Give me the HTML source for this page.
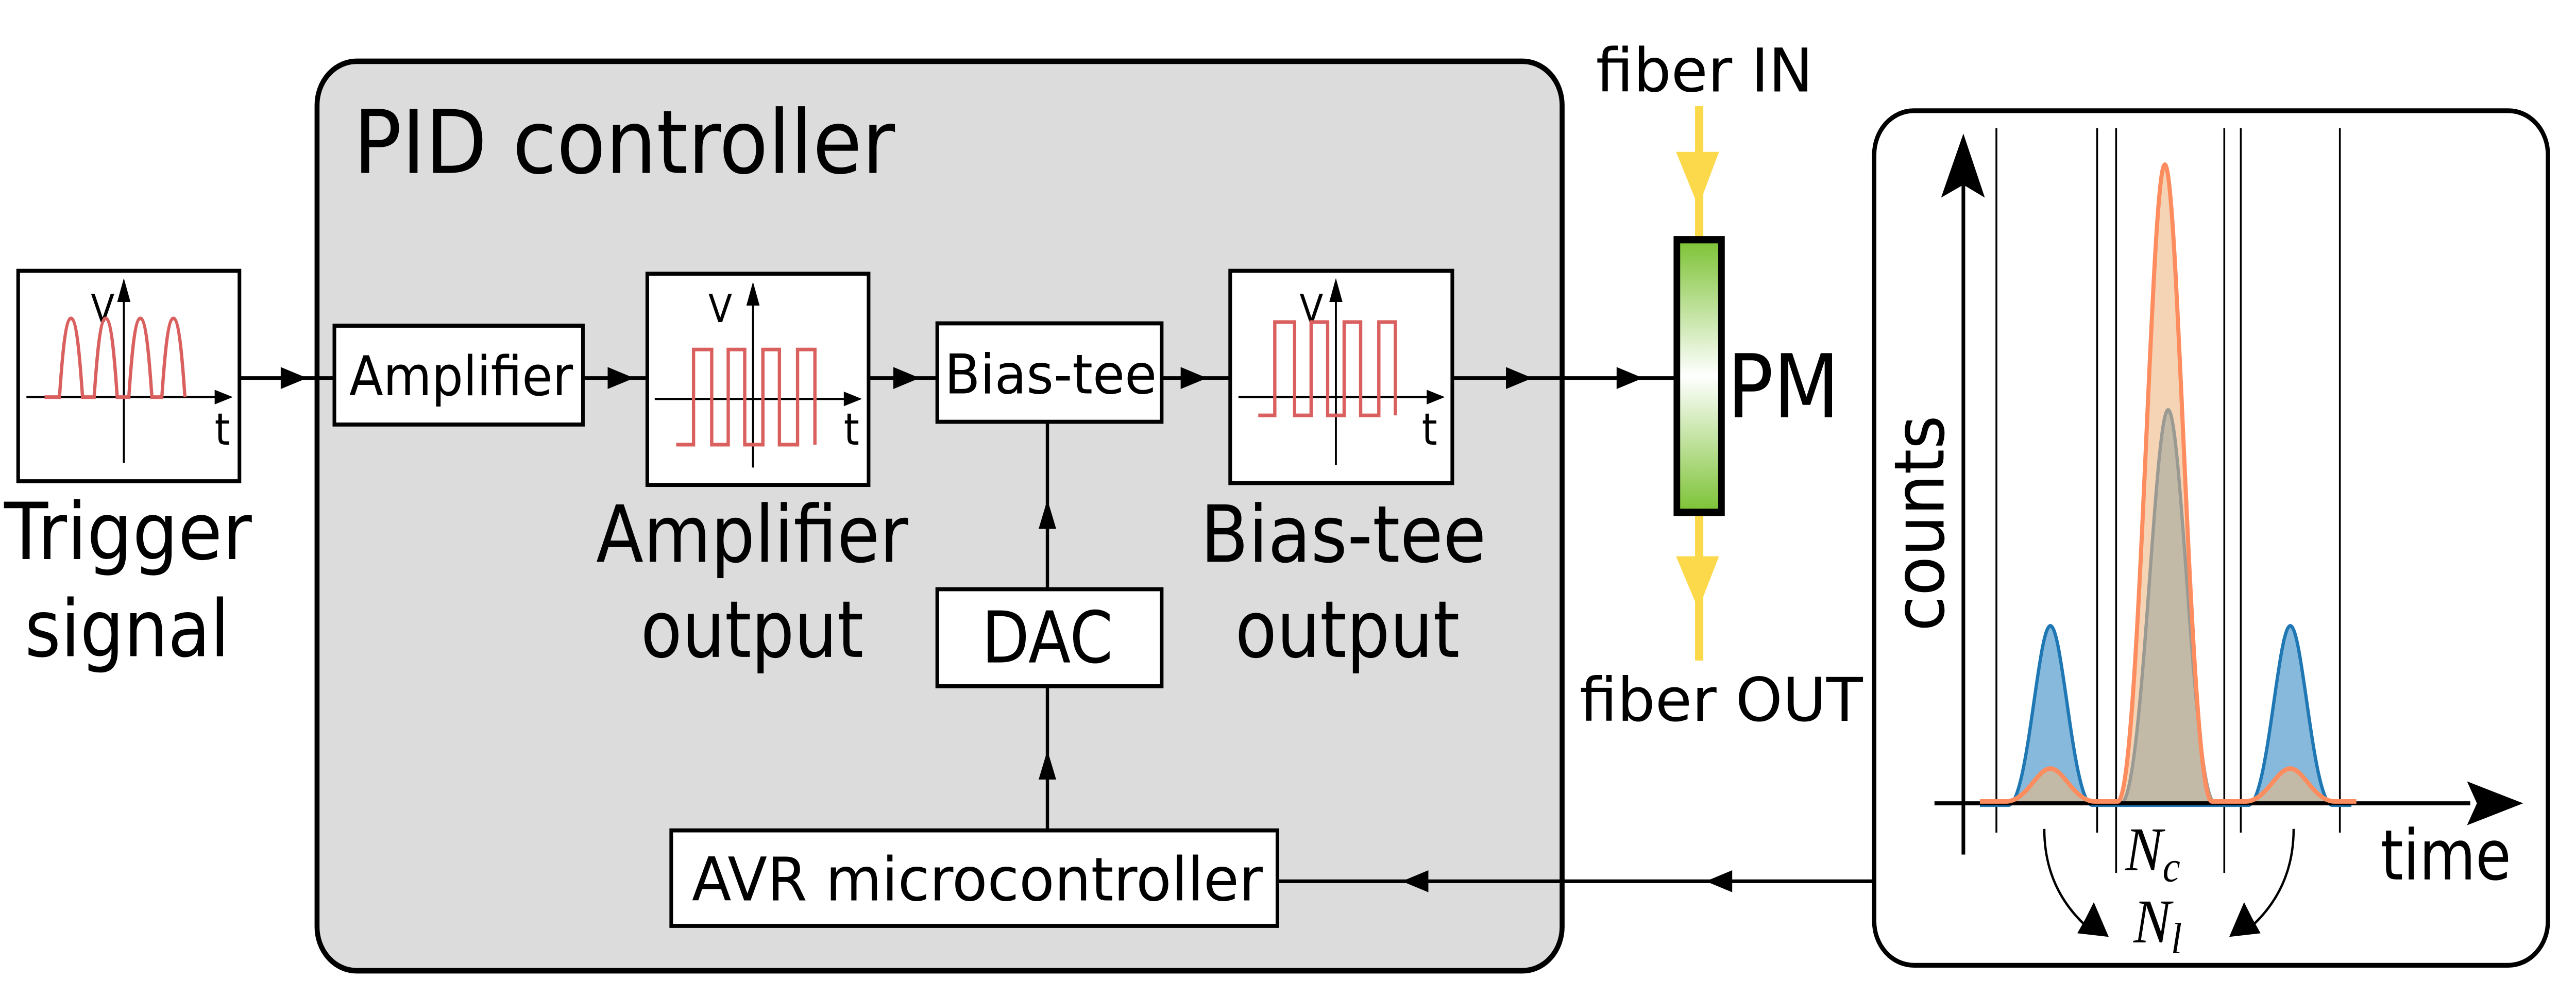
<!DOCTYPE html>
<html><head><meta charset="utf-8"><style>
html,body{margin:0;padding:0;background:#fff;width:100%;height:100%;overflow:hidden;}
svg{display:block;position:absolute;left:0;top:0;width:100vw;height:100vh;}
text{font-family:"DejaVu Sans","Liberation Sans",sans-serif;fill:#000;}
</style></head><body>
<svg viewBox="0 0 1560 544.3" preserveAspectRatio="none" xmlns="http://www.w3.org/2000/svg">
<defs>
<linearGradient id="pm" x1="0" y1="0" x2="0" y2="1">
<stop offset="0" stop-color="#7cc234"/><stop offset="0.5" stop-color="#ffffff"/><stop offset="1" stop-color="#7cc234"/>
</linearGradient>
</defs>
<rect width="1560" height="544.3" fill="#fff"/>
<rect x="192" y="33.5" width="754" height="497" rx="24" ry="24" fill="#dcdcdc" stroke="#000" stroke-width="3"/>
<text x="214" y="94.5" font-size="48" textLength="328" lengthAdjust="spacingAndGlyphs">PID controller</text>

<rect x="11" y="148" width="134" height="115" fill="#fff" stroke="#000" stroke-width="2.2"/>
<line x1="16" y1="217" x2="137" y2="217" stroke="#000" stroke-width="1.2"/>
<polygon points="141,217 130,213 130,221" fill="#000"/>
<line x1="75" y1="253" x2="75" y2="158" stroke="#000" stroke-width="1.2"/>
<polygon points="75,152 71,165 79,165" fill="#000"/>
<text x="55" y="176" font-size="21">V</text>
<text x="130" y="243" font-size="24">t</text>
<path d="M27,217 H36 C37,205 39,174 43,174 C47,174 49,205 50,217 H57 C58,205 60,174 64,174 C68,174 70,205 71,217 H78 C79,205 81,174 85,174 C89,174 91,205 92,217 H98 C99,205 101,174 105,174 C109,174 111,205 112,217" fill="none" stroke="#d9605e" stroke-width="2"/>
<text x="2.5" y="305.5" font-size="43" textLength="150" lengthAdjust="spacingAndGlyphs">Trigger</text>
<text x="15" y="358.6" font-size="43" textLength="124" lengthAdjust="spacingAndGlyphs">signal</text>

<line x1="145" y1="206.6" x2="202.5" y2="206.6" stroke="#000" stroke-width="2"/>
<polygon points="186,206.6 170,200.6 170,212.6" fill="#000"/>
<rect x="202.5" y="178" width="150.5" height="54" fill="#fff" stroke="#000" stroke-width="2.2"/>
<text x="211.5" y="216" font-size="30" textLength="135.5" lengthAdjust="spacingAndGlyphs">Amplifier</text>
<line x1="353" y1="206.6" x2="392" y2="206.6" stroke="#000" stroke-width="2"/>
<polygon points="384,206.6 368,200.6 368,212.6" fill="#000"/>

<rect x="392" y="149.6" width="134" height="115.4" fill="#fff" stroke="#000" stroke-width="2.2"/>
<line x1="396.5" y1="218" x2="518" y2="218" stroke="#000" stroke-width="1.2"/>
<polygon points="522,218 511,214 511,222" fill="#000"/>
<line x1="456" y1="255.5" x2="456" y2="160" stroke="#000" stroke-width="1.2"/>
<polygon points="456,154 452,167 460,167" fill="#000"/>
<text x="429" y="176" font-size="21">V</text>
<text x="511" y="243" font-size="24">t</text>
<path d="M409.5,243 H420 V191 H431 V243 H441 V191 H451 V243 H462 V191 H472 V243 H483 V191 H493.5 V243" fill="none" stroke="#d9605e" stroke-width="2"/>
<text x="361" y="307" font-size="43" textLength="189" lengthAdjust="spacingAndGlyphs">Amplifier</text>
<text x="388" y="359" font-size="43" textLength="135" lengthAdjust="spacingAndGlyphs">output</text>

<line x1="526" y1="206.6" x2="568" y2="206.6" stroke="#000" stroke-width="2"/>
<polygon points="557,206.6 541,200.6 541,212.6" fill="#000"/>
<rect x="567.6" y="176.7" width="135.9" height="53.8" fill="#fff" stroke="#000" stroke-width="2.2"/>
<text x="572" y="215" font-size="30" textLength="128.5" lengthAdjust="spacingAndGlyphs">Bias-tee</text>
<line x1="703.5" y1="206.6" x2="745" y2="206.6" stroke="#000" stroke-width="2"/>
<polygon points="731,206.6 715,200.6 715,212.6" fill="#000"/>

<rect x="745" y="148" width="134.5" height="116" fill="#fff" stroke="#000" stroke-width="2.2"/>
<line x1="750" y1="217" x2="871" y2="217" stroke="#000" stroke-width="1.2"/>
<polygon points="875,217 864,213 864,221" fill="#000"/>
<line x1="809" y1="254" x2="809" y2="158" stroke="#000" stroke-width="1.2"/>
<polygon points="809,152 805,165 813,165" fill="#000"/>
<text x="787" y="176" font-size="21">V</text>
<text x="861" y="243" font-size="24">t</text>
<path d="M762,227 H772 V176 H784 V227 H794 V176 H804 V227 H814 V176 H824 V227 H835 V176 H845 V227" fill="none" stroke="#d9605e" stroke-width="2"/>
<text x="727" y="307" font-size="43" textLength="173" lengthAdjust="spacingAndGlyphs">Bias-tee</text>
<text x="748" y="359" font-size="43" textLength="136" lengthAdjust="spacingAndGlyphs">output</text>

<line x1="879.5" y1="206.6" x2="1014" y2="206.6" stroke="#000" stroke-width="2"/>
<polygon points="928,206.6 912,200.6 912,212.6" fill="#000"/>
<polygon points="995,206.6 979,200.6 979,212.6" fill="#000"/>

<rect x="567.6" y="322" width="135.9" height="53" fill="#fff" stroke="#000" stroke-width="2.2"/>
<text x="594.5" y="362" font-size="39" textLength="79.5" lengthAdjust="spacingAndGlyphs">DAC</text>
<line x1="634.3" y1="453.8" x2="634.3" y2="375" stroke="#000" stroke-width="2"/>
<polygon points="634.3,410 629,426 639.6,426" fill="#000"/>
<line x1="634.3" y1="322" x2="634.3" y2="230.5" stroke="#000" stroke-width="2"/>
<polygon points="634.3,273 629,289 639.6,289" fill="#000"/>
<rect x="406.5" y="453.8" width="367.1" height="52.2" fill="#fff" stroke="#000" stroke-width="2.2"/>
<text x="419" y="492" font-size="33" textLength="345.7" lengthAdjust="spacingAndGlyphs">AVR microcontroller</text>
<line x1="773.6" y1="481.6" x2="1134" y2="481.6" stroke="#000" stroke-width="2"/>
<polygon points="849,481.6 865,475.6 865,487.6" fill="#000"/>
<polygon points="1033,481.6 1049,475.6 1049,487.6" fill="#000"/>

<line x1="1029" y1="58" x2="1029" y2="132" stroke="#fcd94a" stroke-width="5"/>
<polygon points="1015,83 1041,83 1028.5,113" fill="#fcd94a"/>
<line x1="1029" y1="280" x2="1029" y2="361" stroke="#fcd94a" stroke-width="5"/>
<polygon points="1015,304 1041,304 1028.5,333" fill="#fcd94a"/>
<rect x="1015.5" y="131" width="27" height="149" fill="url(#pm)" stroke="#000" stroke-width="4"/>
<text x="1046" y="228" font-size="48" textLength="68" lengthAdjust="spacingAndGlyphs">PM</text>
<text x="966.5" y="50" font-size="33" textLength="131.5" lengthAdjust="spacingAndGlyphs">fiber IN</text>
<text x="956.6" y="394" font-size="33" textLength="171.5" lengthAdjust="spacingAndGlyphs">fiber OUT</text>

<rect x="1135" y="60.5" width="408" height="467" rx="24" ry="24" fill="#fff" stroke="#000" stroke-width="2.6"/>
<g stroke="#000" stroke-width="1.1">
<line x1="1209" y1="70" x2="1209" y2="455"/>
<line x1="1270" y1="70" x2="1270" y2="455"/>
<line x1="1281.5" y1="70" x2="1281.5" y2="477"/>
<line x1="1347" y1="70" x2="1347" y2="477"/>
<line x1="1357" y1="70" x2="1357" y2="455"/>
<line x1="1417" y1="70" x2="1417" y2="455"/>
</g>
<path d="M1216.2,439 C1228.1,439 1234.1,342 1241.7,342 C1249.3,342 1255.3,439 1267.2,439 Z" fill="#86b9dc"/>
<path d="M1361.5,439 C1373.4,439 1379.4,342 1387,342 C1394.6,342 1400.6,439 1412.5,439 Z" fill="#86b9dc"/>
<path d="M1282.5,439 C1295.8,439 1302.5,90 1311,90 C1319.5,90 1326.2,439 1339.5,439 Z" fill="#f5d4b6"/>
<path d="M1284.5,439 C1297.8,439 1304.5,224 1313,224 C1321.5,224 1328.2,439 1341.5,439 Z" fill="#c3b9a7" stroke="#9a9a92" stroke-width="2"/>
<path d="M1214.7,439 C1227.3,439 1233.6,420 1241.7,420 C1249.8,420 1256.1,439 1268.7,439 Z" fill="#c3b9a7"/>
<path d="M1359.7,439 C1372.3,439 1378.6,420 1387,420 C1395.1,420 1401.4,439 1414,439 Z" fill="#c3b9a7"/>
<path d="M1199,440 H1216.2 C1228.1,440 1234.1,342 1241.7,342 C1249.3,342 1255.3,440 1267.2,440 H1361.5 C1373.4,440 1379.4,342 1387,342 C1394.6,342 1400.6,440 1412.5,440 H1424" fill="none" stroke="#1f77b4" stroke-width="2"/>
<line x1="1171.5" y1="439" x2="1496" y2="439" stroke="#000" stroke-width="2.2"/>
<polygon points="1528,439 1494,427 1500,439 1494,451" fill="#000"/>
<path d="M1199,438 H1214.7 C1227.3,438 1233.6,420 1241.7,420 C1249.8,420 1256.1,438 1268.7,438 H1282.5 C1295.8,438 1302.5,90 1311,90 C1319.5,90 1326.2,438 1339.5,438 H1359.7 C1372.3,438 1378.6,420 1387,420 C1395.1,420 1401.4,438 1414,438 H1427" fill="none" stroke="#fd8c5f" stroke-width="2.5"/>
<line x1="1189" y1="467" x2="1189" y2="100" stroke="#000" stroke-width="2.2"/>
<polygon points="1189,73 1175.5,108 1189,101 1202,108" fill="#000"/>
<text transform="translate(1177,345) rotate(-90)" font-size="42" textLength="118" lengthAdjust="spacingAndGlyphs">counts</text>
<text x="1441.7" y="480.6" font-size="38" textLength="79" lengthAdjust="spacingAndGlyphs">time</text>
<text x="1287" y="475.6" font-size="34" font-style="italic" style="font-family:'Liberation Serif',serif">N<tspan font-size="24" dy="6">c</tspan></text>
<text x="1292" y="515" font-size="34" font-style="italic" style="font-family:'Liberation Serif',serif">N<tspan font-size="24" dy="6">l</tspan></text>
<path d="M1238,453 C1238,475 1247,492 1262,505" fill="none" stroke="#000" stroke-width="1.4"/>
<polygon points="1277,512 1258,510 1263,502 1268,493" fill="#000"/>
<path d="M1389,453 C1389,475 1380,492 1365,505" fill="none" stroke="#000" stroke-width="1.4"/>
<polygon points="1350,512 1369,510 1364,502 1359,493" fill="#000"/>
</svg>
</body></html>
